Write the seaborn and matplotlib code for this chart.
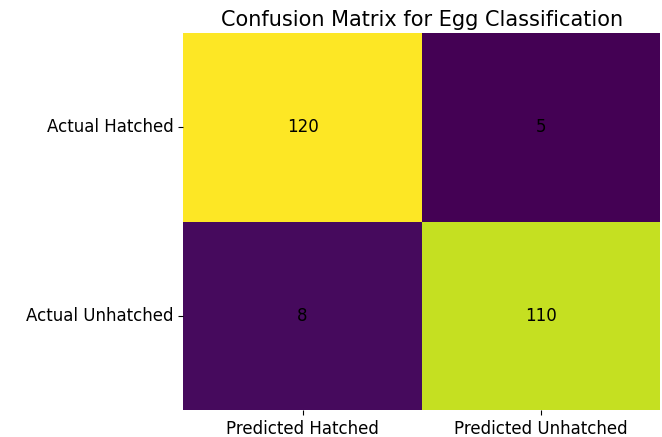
import matplotlib
matplotlib.use('Agg')
import matplotlib.pyplot as plt
import pandas as pd
import seaborn as sns

# dados da matriz de confusao
linhas = ['Actual Hatched', 'Actual Unhatched']
colunas = ['Predicted Hatched', 'Predicted Unhatched']
hatched_row = [120, 5]
unhatched_row = [8, 110]

cm = pd.DataFrame([hatched_row, unhatched_row], index=linhas, columns=colunas)

fig = plt.figure(figsize=(6.62, 4.37), dpi=100)
ax = fig.add_axes([0.277, 0.062, 0.72, 0.862])
sns.heatmap(cm, annot=True, fmt='d', cmap='viridis', cbar=False, ax=ax,
            annot_kws={'color': 'black', 'fontsize': 12})
ax.set_title('Confusion Matrix for Egg Classification', fontsize=15, pad=5)
ax.tick_params(axis='both', length=3.5, width=0.8, labelsize=12)
ax.set_yticklabels(linhas, rotation=0)
ax.set_xticklabels(colunas, rotation=0)
fig.savefig('out.png', dpi=100)
